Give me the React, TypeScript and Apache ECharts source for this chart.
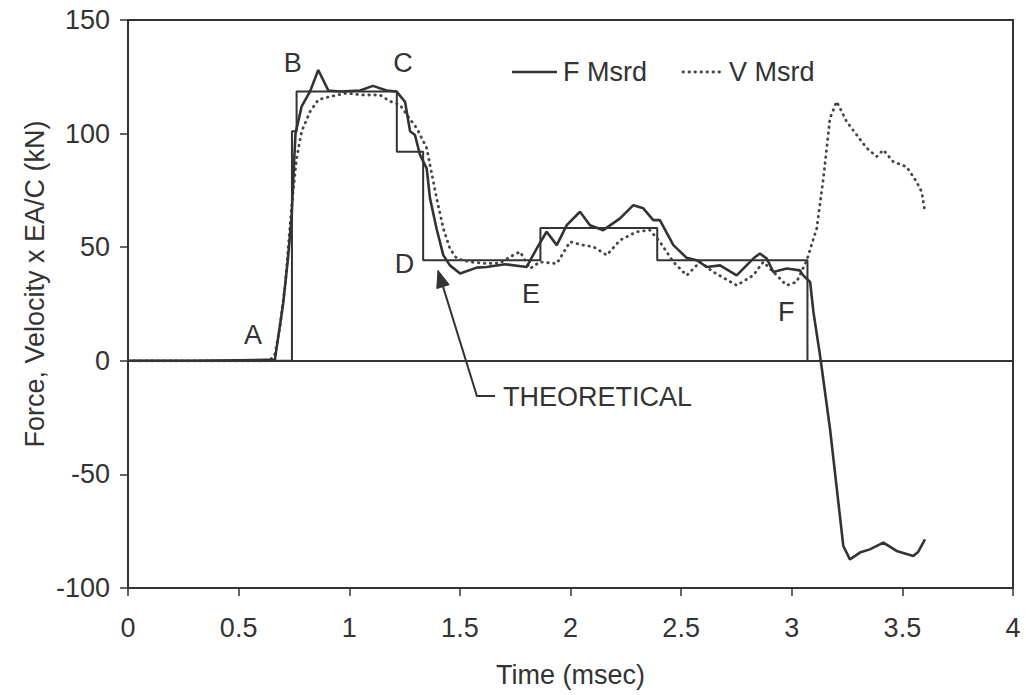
import React, { useEffect, useRef } from "react";
import * as echarts from "echarts";

// ---- Data ----
const theoTime = [0, 0.741, 0.741, 0.762, 0.762, 1.215, 1.215, 1.334, 1.334, 1.864, 1.864, 2.392, 2.392, 3.071, 3.071];
const theoForce = [0, 0, 101, 101, 118.5, 118.5, 92, 92, 44.3, 44.3, 58.5, 58.5, 44.3, 44.3, 0];

const fTime = [0, 0.3, 0.664, 0.701, 0.723, 0.74, 0.748, 0.757, 0.785, 0.823, 0.86, 0.905, 0.958, 1.049, 1.107, 1.169, 1.214, 1.252, 1.275, 1.297, 1.32, 1.35, 1.365, 1.395, 1.425, 1.455, 1.501, 1.576, 1.621, 1.704, 1.802, 1.847, 1.892, 1.938, 1.983, 2.043, 2.088, 2.148, 2.224, 2.284, 2.329, 2.374, 2.404, 2.465, 2.525, 2.57, 2.616, 2.676, 2.751, 2.826, 2.856, 2.887, 2.917, 2.977, 3.037, 3.052, 3.083, 3.098, 3.128, 3.173, 3.233, 3.263, 3.308, 3.353, 3.414, 3.474, 3.549, 3.572, 3.602];
const fForce = [0, 0, 0.5, 25, 45, 64, 82, 100, 112, 118.6, 128, 119, 118.5, 119, 121, 119, 118.5, 114, 101, 99.4, 90.6, 84.7, 71.5, 58, 46.5, 42, 38.4, 41, 41.3, 42.5, 41.3, 49.4, 56.8, 50.9, 59.7, 65.6, 59.7, 57.5, 62.7, 68.5, 67.1, 61.9, 61.9, 50.9, 45.3, 44.3, 41.3, 42, 37.6, 45, 47.2, 45, 39.1, 40.6, 39.8, 37.6, 34.7, 21.5, 2.3, -30, -81.5, -87.4, -84.4, -83, -80, -83.7, -85.9, -84, -78.6];

const vTime = [0, 0.64, 0.664, 0.687, 0.71, 0.724, 0.74, 0.762, 0.785, 0.823, 0.86, 0.913, 0.988, 1.063, 1.139, 1.184, 1.229, 1.26, 1.305, 1.35, 1.365, 1.395, 1.425, 1.455, 1.486, 1.546, 1.621, 1.681, 1.741, 1.772, 1.817, 1.862, 1.938, 1.998, 2.058, 2.103, 2.164, 2.224, 2.299, 2.359, 2.404, 2.465, 2.525, 2.585, 2.645, 2.751, 2.826, 2.871, 2.917, 2.977, 3.022, 3.068, 3.113, 3.143, 3.173, 3.203, 3.248, 3.339, 3.384, 3.414, 3.459, 3.519, 3.564, 3.587, 3.602];
const vForce = [0, 0, 3, 15, 33, 49.4, 68.5, 89, 101, 109.7, 114.9, 116.3, 117.8, 117, 117, 114.2, 112.7, 108.3, 102.4, 93.6, 86.2, 71.5, 58.3, 49.4, 45, 43.5, 42.8, 43, 46.5, 48, 40.6, 43.5, 42.8, 52.4, 50.9, 50.2, 46.5, 53.1, 56.8, 57.5, 52.4, 43.5, 37.6, 43.5, 39.1, 33.2, 37.6, 43.5, 39.1, 33.2, 34.7, 44.3, 58.3, 80.3, 106.8, 114.1, 105.3, 93.6, 89.9, 92.8, 87.6, 85.4, 78.8, 74.4, 65.6];

const seriesNames = ["F Msrd", "V Msrd", "Theoretical"];
const xTicks = { min: 0, max: 4, interval: 0.5 };
const yTicks = { min: -100, max: 150, interval: 50 };
const xTitle = "Time (msec)";
const yTitle = "Force, Velocity x EA/C (kN)";

// annotations (data coordinates)
const letterLabels = ["A", "B", "C", "D", "E", "F"];
const letterTimes = [0.565, 0.745, 1.243, 1.25, 1.821, 2.975];
const letterForces = [11.5, 131, 131, 42.5, 29.5, 21.5];
const arrowTimes = [1.659, 1.577, 1.401];
const arrowForces = [-15.5, -15.5, 39.8];
const theoLabel = "THEORETICAL";
const theoLabelPos = [1.695, -15.9];

const INK = "#333333";
const FONT = "'Liberation Sans', Arial, sans-serif";
const DOTS = [0.5, 5.5];

const zip = (a: number[], b: number[]) => a.map((v, i) => [v, b[i]]);

export default function App() {
  const ref = useRef<HTMLDivElement>(null);
  useEffect(() => {
    if (!ref.current) return;
    const chart = echarts.init(ref.current, undefined, { renderer: "svg" });
    chart.setOption({
      animation: false,
      backgroundColor: "#ffffff",
      textStyle: { fontFamily: FONT, color: INK },
      grid: { left: 128, right: 13, top: 20, bottom: 107, show: true, borderColor: INK, borderWidth: 2, backgroundColor: "transparent" },
      xAxis: {
        type: "value",
        min: xTicks.min,
        max: xTicks.max,
        interval: xTicks.interval,
        name: xTitle,
        nameLocation: "middle",
        nameGap: 73,
        nameTextStyle: { fontSize: 27, color: INK, fontFamily: FONT },
        axisLine: { onZero: false, lineStyle: { color: INK, width: 2 } },
        axisTick: { show: true, length: 8, lineStyle: { color: INK, width: 1.5 } },
        axisLabel: { fontSize: 27, color: INK, margin: 26, fontFamily: FONT },
        splitLine: { show: false },
      },
      yAxis: {
        type: "value",
        min: yTicks.min,
        max: yTicks.max,
        interval: yTicks.interval,
        axisLine: { show: true, lineStyle: { color: INK, width: 2 } },
        axisTick: { show: true, length: 8, lineStyle: { color: INK, width: 1.5 } },
        axisLabel: { fontSize: 27, color: INK, margin: 18, fontFamily: FONT },
        splitLine: { show: false },
      },
      series: [
        {
          name: seriesNames[2],
          type: "line",
          data: zip(theoTime, theoForce),
          symbol: "none",
          lineStyle: { color: INK, width: 2 },
          itemStyle: { color: INK },
          z: 2,
          markLine: {
            silent: true,
            symbol: ["none", "none"],
            label: { show: false },
            lineStyle: { color: INK, width: 2, type: "solid" },
            data: [{ yAxis: 0 }],
          },
        },
        {
          name: seriesNames[0],
          type: "line",
          data: zip(fTime, fForce),
          symbol: "none",
          lineStyle: { color: INK, width: 2.6 },
          itemStyle: { color: INK },
          z: 4,
        },
        {
          name: seriesNames[1],
          type: "line",
          data: zip(vTime, vForce),
          symbol: "none",
          lineStyle: { color: "#444444", width: 2.8, type: DOTS, cap: "round" },
          itemStyle: { color: "#444444" },
          z: 3,
        },
      ],
    });

    const px = (t: number, v: number) => chart.convertToPixel({ gridIndex: 0 }, [t, v]) as number[];
    const graphics: any[] = [];
    letterLabels.forEach((l, i) => {
      const p = px(letterTimes[i], letterForces[i]);
      graphics.push({
        type: "text",
        x: p[0],
        y: p[1],
        style: { text: l, font: `27px ${FONT}`, fill: INK, align: "center", verticalAlign: "middle" },
      });
    });
    const pts = arrowTimes.map((t, i) => px(t, arrowForces[i]));
    const tip = pts[2];
    const elbow = pts[1];
    const dx = tip[0] - elbow[0];
    const dy = tip[1] - elbow[1];
    const len = Math.sqrt(dx * dx + dy * dy);
    const ux = dx / len, uy = dy / len;
    const headLen = 17, headHalf = 6.5;
    const bx = tip[0] - headLen * ux, by = tip[1] - headLen * uy;
    const nx = -uy, ny = ux;
    graphics.push({
      type: "polyline",
      shape: { points: [pts[0], elbow, [bx, by]] },
      style: { stroke: INK, lineWidth: 2, fill: null },
    });
    graphics.push({
      type: "polygon",
      shape: { points: [tip, [bx + headHalf * nx, by + headHalf * ny], [bx - headHalf * nx, by - headHalf * ny]] },
      style: { fill: INK, stroke: INK, lineWidth: 1 },
    });
    const tp = px(theoLabelPos[0], theoLabelPos[1]);
    graphics.push({
      type: "text",
      x: tp[0],
      y: tp[1],
      style: { text: theoLabel, font: `27px ${FONT}`, fill: INK, align: "left", verticalAlign: "middle" },
    });
    graphics.push({
      type: "text",
      x: 35,
      y: 284,
      rotation: Math.PI / 2,
      style: { text: yTitle, font: `27px ${FONT}`, fill: INK, align: "center", verticalAlign: "middle" },
    });
    // legend (drawn manually: line sample + label)
    const legendY = 72;
    graphics.push({ type: "line", shape: { x1: 512, y1: legendY, x2: 557, y2: legendY }, style: { stroke: INK, lineWidth: 2.6 } });
    graphics.push({ type: "text", x: 563, y: legendY, style: { text: seriesNames[0], font: `27px ${FONT}`, fill: INK, align: "left", verticalAlign: "middle" } });
    graphics.push({ type: "line", shape: { x1: 683, y1: legendY, x2: 725, y2: legendY }, style: { stroke: "#444444", lineWidth: 2.8, lineDash: DOTS, lineCap: "round" } });
    graphics.push({ type: "text", x: 729, y: legendY, style: { text: seriesNames[1], font: `27px ${FONT}`, fill: INK, align: "left", verticalAlign: "middle" } });
    chart.setOption({ graphic: graphics });

    return () => chart.dispose();
  }, []);
  return <div ref={ref} style={{ width: 1026, height: 695, position: "absolute", left: 0, top: 0 }} />;
}
